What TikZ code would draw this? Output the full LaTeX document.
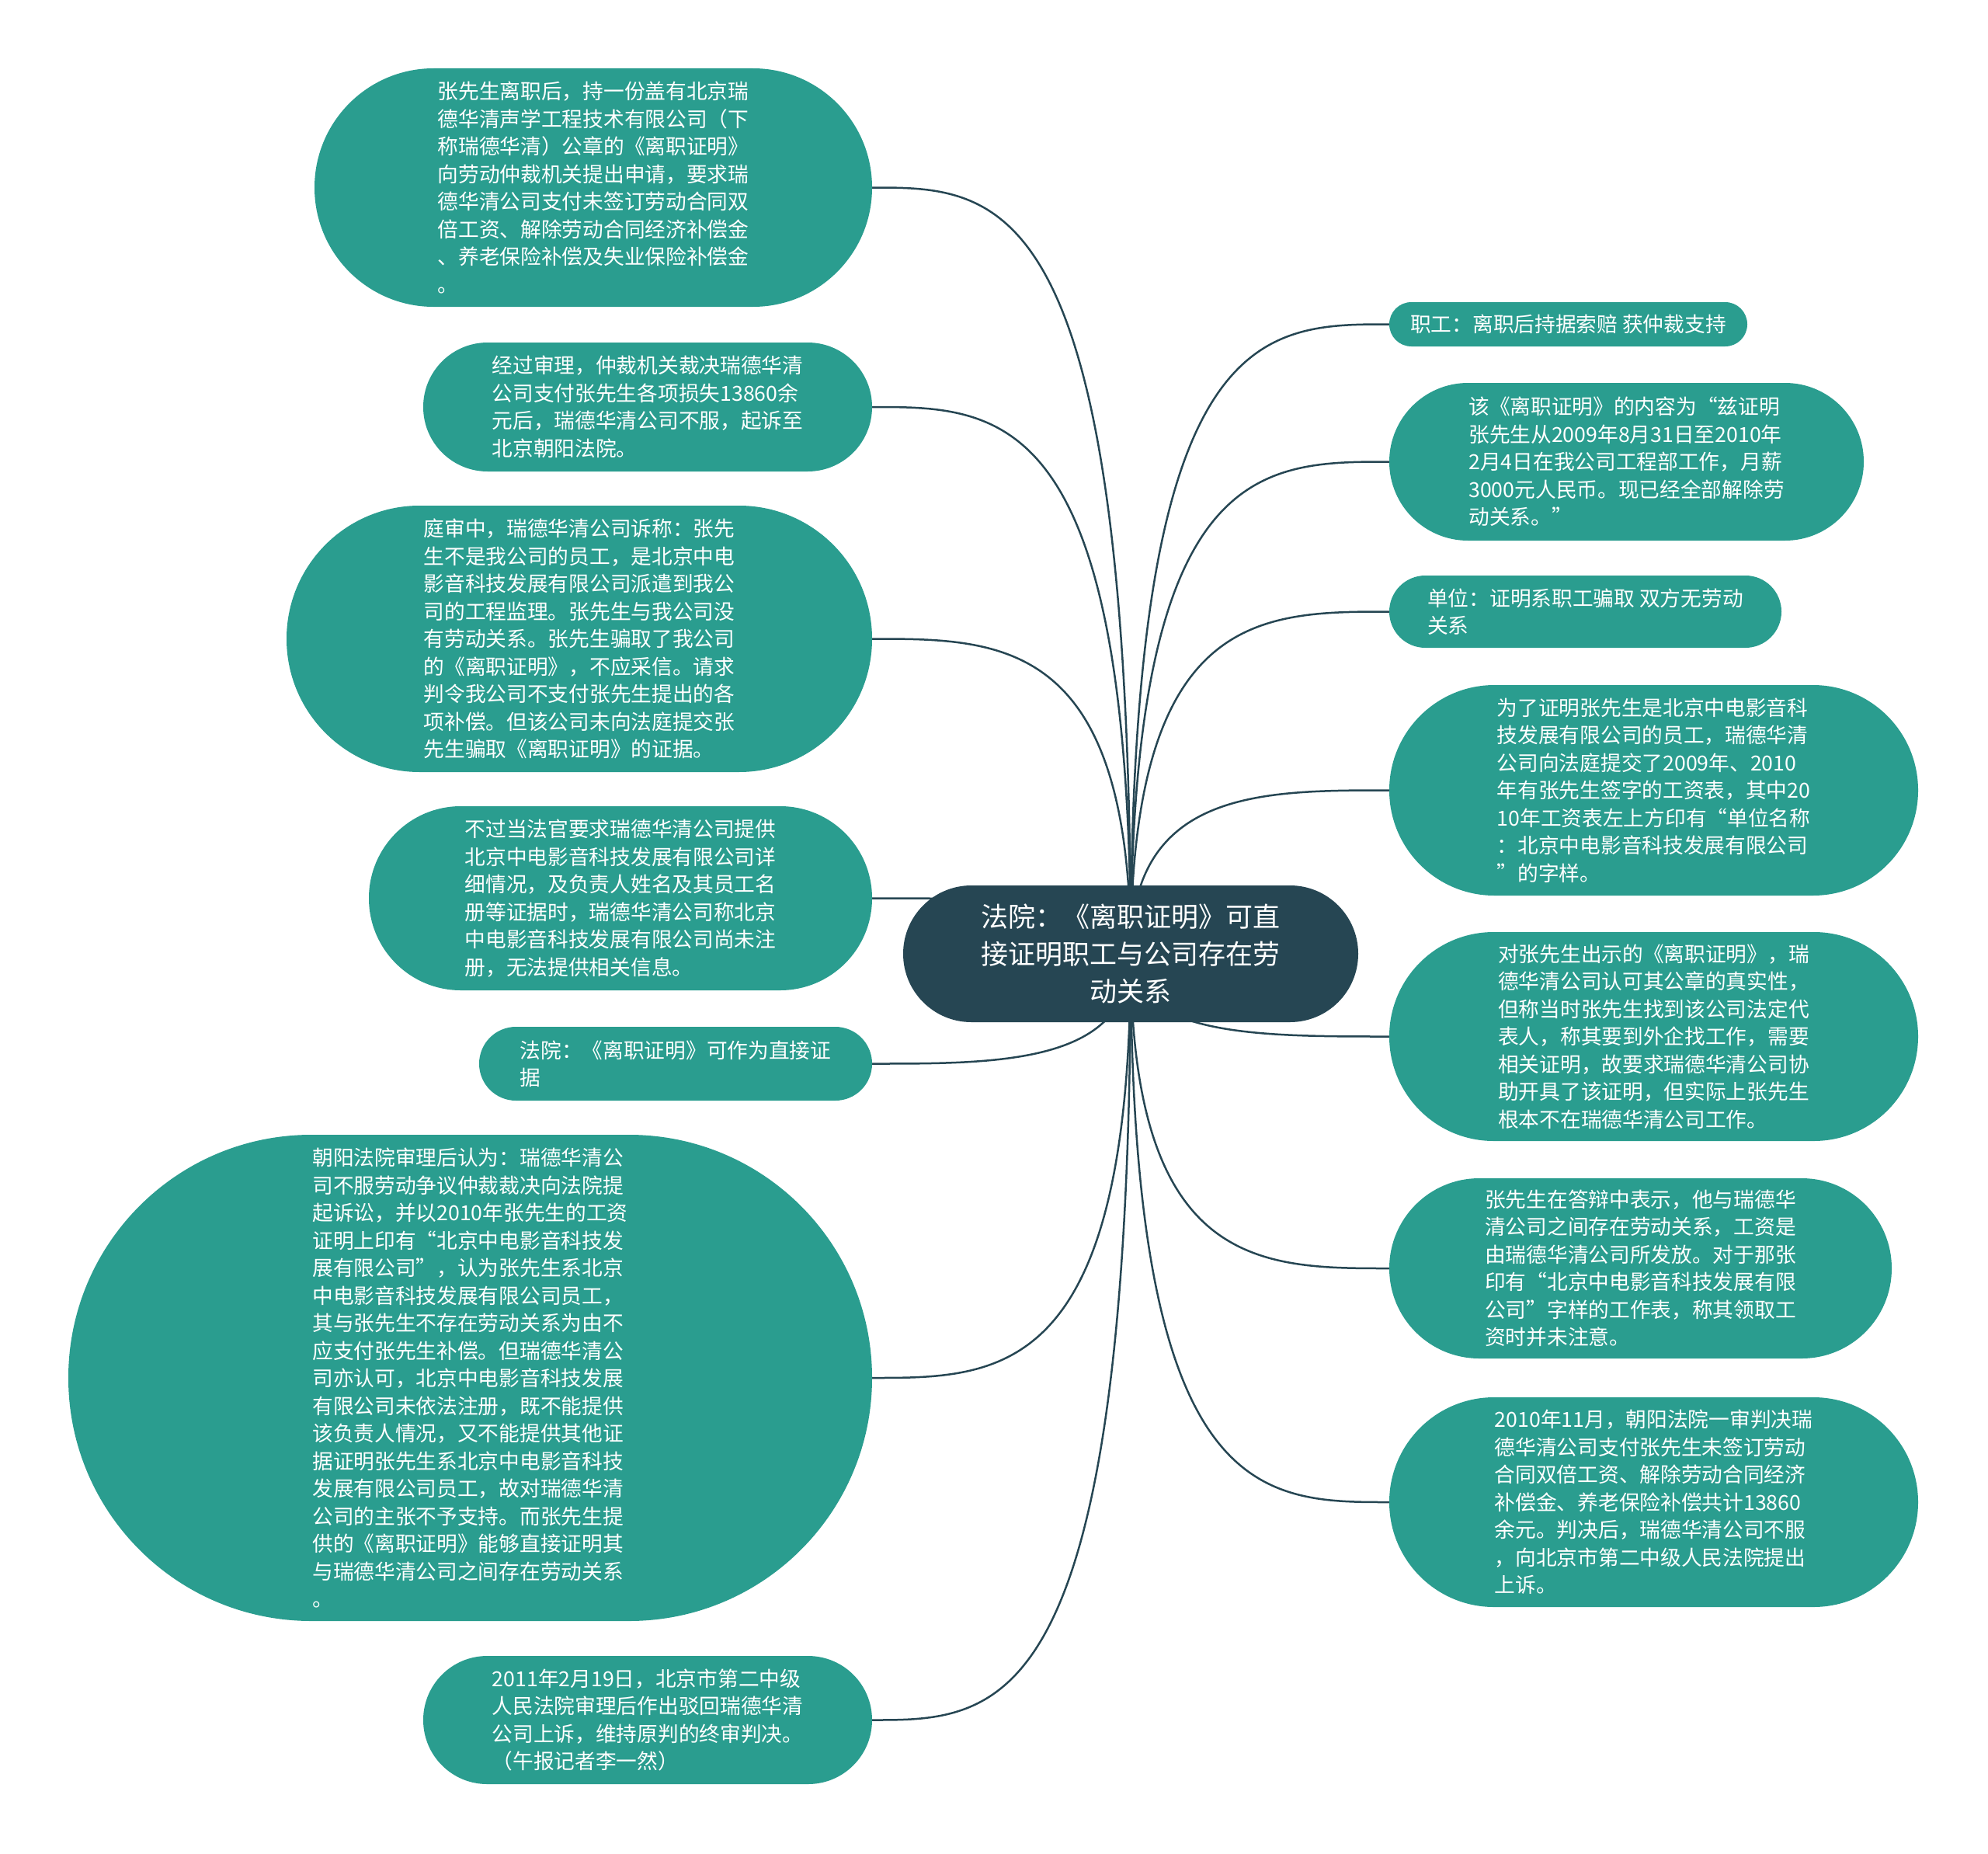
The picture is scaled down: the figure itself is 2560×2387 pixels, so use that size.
\documentclass[tikz,border=0pt]{standalone}
\usepackage{fontspec}
\newfontfamily\cjk{Noto Sans CJK SC}
\usetikzlibrary{calc,backgrounds}
\definecolor{leaffill}{HTML}{2A9D8F}
\definecolor{rootfill}{HTML}{264653}
\definecolor{linkcol}{HTML}{264653}
\newcommand\linkto[1]{\draw[conn] (C.center) .. controls ($(C.center |- #1)$) and ($(C.center |- #1)!0.5!(#1)$) .. (#1);}
\begin{document}
\begin{tikzpicture}[x=1pt,y=-1pt,
  leaf/.style={rectangle,fill=leaffill,text=white,inner sep=0pt,align=left,
    font=\cjk\fontsize{26.7pt}{35.5pt}\selectfont},
  rootnode/.style={rectangle,fill=rootfill,text=white,inner sep=0pt,align=center,
    font=\cjk\fontsize{35pt}{48pt}\selectfont},
  conn/.style={draw=linkcol,line width=2.5pt}]
\useasboundingbox (0,0) rectangle (2560,2387);

% central node
\node[rootnode,minimum width=586pt,minimum height=176pt,rounded corners=87.9pt] (C) at (1456,1228)
 {法院：《离职证明》可直\\接证明职工与公司存在劳\\动关系};

% left nodes
\node[leaf,minimum width=718pt,minimum height=307pt,rounded corners=153.4pt] (L1) at (764,241.5)
 {张先生离职后，持一份盖有北京瑞\\德华清声学工程技术有限公司（下\\称瑞德华清）公章的《离职证明》\\向劳动仲裁机关提出申请，要求瑞\\德华清公司支付未签订劳动合同双\\倍工资、解除劳动合同经济补偿金\\、养老保险补偿及失业保险补偿金\\。};
\node[leaf,minimum width=578pt,minimum height=166pt,rounded corners=82.9pt] (L2) at (834,524)
 {经过审理，仲裁机关裁决瑞德华清\\公司支付张先生各项损失13860余\\元后，瑞德华清公司不服，起诉至\\北京朝阳法院。};
\node[leaf,minimum width=754pt,minimum height=343pt,rounded corners=171.4pt] (L3) at (746,822.5)
 {庭审中，瑞德华清公司诉称：张先\\生不是我公司的员工，是北京中电\\影音科技发展有限公司派遣到我公\\司的工程监理。张先生与我公司没\\有劳动关系。张先生骗取了我公司\\的《离职证明》，不应采信。请求\\判令我公司不支付张先生提出的各\\项补偿。但该公司未向法庭提交张\\先生骗取《离职证明》的证据。};
\node[leaf,minimum width=648pt,minimum height=237pt,rounded corners=118.4pt] (L4) at (799,1156.5)
 {不过当法官要求瑞德华清公司提供\\北京中电影音科技发展有限公司详\\细情况，及负责人姓名及其员工名\\册等证据时，瑞德华清公司称北京\\中电影音科技发展有限公司尚未注\\册，无法提供相关信息。};
\node[leaf,minimum width=506pt,minimum height=95pt,rounded corners=47.4pt] (L5) at (870,1369.5)
 {法院：《离职证明》可作为直接证\\据};
\node[leaf,minimum width=1035pt,minimum height=626pt,rounded corners=312.9pt] (L6) at (605.5,1774)
 {朝阳法院审理后认为：瑞德华清公\\司不服劳动争议仲裁裁决向法院提\\起诉讼，并以2010年张先生的工资\\证明上印有“北京中电影音科技发\\展有限公司”，认为张先生系北京\\中电影音科技发展有限公司员工，\\其与张先生不存在劳动关系为由不\\应支付张先生补偿。但瑞德华清公\\司亦认可，北京中电影音科技发展\\有限公司未依法注册，既不能提供\\该负责人情况，又不能提供其他证\\据证明张先生系北京中电影音科技\\发展有限公司员工，故对瑞德华清\\公司的主张不予支持。而张先生提\\供的《离职证明》能够直接证明其\\与瑞德华清公司之间存在劳动关系\\。};
\node[leaf,minimum width=578pt,minimum height=165pt,rounded corners=82.4pt] (L7) at (834,2214.5)
 {2011年2月19日，北京市第二中级\\人民法院审理后作出驳回瑞德华清\\公司上诉，维持原判的终审判决。\\（午报记者李一然）};

% right nodes
\node[leaf,minimum width=461pt,minimum height=57pt,rounded corners=28.4pt] (R1) at (2019.5,417.5)
 {职工：离职后持据索赔 获仲裁支持};
\node[leaf,minimum width=611pt,minimum height=203pt,rounded corners=101.4pt] (R2) at (2094.5,594.5)
 {该《离职证明》的内容为“兹证明\\张先生从2009年8月31日至2010年\\2月4日在我公司工程部工作，月薪\\3000元人民币。现已经全部解除劳\\动关系。”};
\node[leaf,minimum width=505pt,minimum height=93pt,rounded corners=46.4pt] (R3) at (2041.5,787.5)
 {单位：证明系职工骗取 双方无劳动\\关系};
\node[leaf,minimum width=681pt,minimum height=271pt,rounded corners=135.4pt] (R4) at (2129.5,1017.5)
 {为了证明张先生是北京中电影音科\\技发展有限公司的员工，瑞德华清\\公司向法庭提交了2009年、2010\\年有张先生签字的工资表，其中20\\10年工资表左上方印有“单位名称\\：北京中电影音科技发展有限公司\\”的字样。};
\node[leaf,minimum width=681pt,minimum height=269pt,rounded corners=134.4pt] (R5) at (2129.5,1334.5)
 {对张先生出示的《离职证明》，瑞\\德华清公司认可其公章的真实性，\\但称当时张先生找到该公司法定代\\表人，称其要到外企找工作，需要\\相关证明，故要求瑞德华清公司协\\助开具了该证明，但实际上张先生\\根本不在瑞德华清公司工作。};
\node[leaf,minimum width=647pt,minimum height=232pt,rounded corners=115.9pt] (R6) at (2112.5,1633)
 {张先生在答辩中表示，他与瑞德华\\清公司之间存在劳动关系，工资是\\由瑞德华清公司所发放。对于那张\\印有“北京中电影音科技发展有限\\公司”字样的工作表，称其领取工\\资时并未注意。};
\node[leaf,minimum width=681pt,minimum height=270pt,rounded corners=134.9pt] (R7) at (2129.5,1934)
 {2010年11月，朝阳法院一审判决瑞\\德华清公司支付张先生未签订劳动\\合同双倍工资、解除劳动合同经济\\补偿金、养老保险补偿共计13860\\余元。判决后，瑞德华清公司不服\\，向北京市第二中级人民法院提出\\上诉。};

% connectors
\begin{scope}[on background layer]
\linkto{L1.east}
\linkto{L2.east}
\linkto{L3.east}
\linkto{L4.east}
\linkto{L5.east}
\linkto{L6.east}
\linkto{L7.east}
\linkto{R1.west}
\linkto{R2.west}
\linkto{R3.west}
\linkto{R4.west}
\linkto{R5.west}
\linkto{R6.west}
\linkto{R7.west}
\end{scope}
\end{tikzpicture}
\end{document}
